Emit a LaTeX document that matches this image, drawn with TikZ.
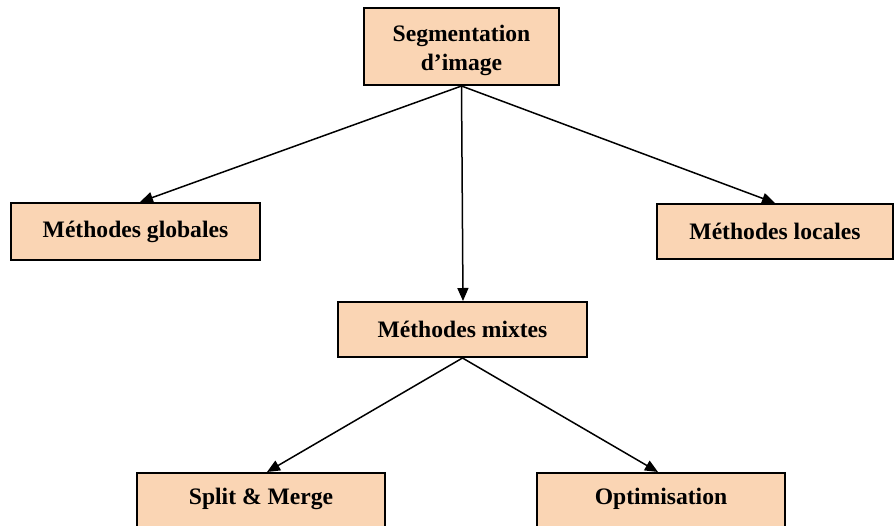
\documentclass[tikz,border=0pt]{standalone}
\usepackage{fontspec}
\setmainfont{Liberation Serif}
\usetikzlibrary{arrows.meta}
\definecolor{peach}{RGB}{250,213,180}
\tikzset{
  box/.style={draw=black, line width=2pt, fill=peach, inner sep=0pt, align=center,
    font=\bfseries\fontsize{23.6}{31}\selectfont},
  link/.style={draw=black, line width=1.5pt, -{Triangle[length=13pt,width=11pt]}}
}
\begin{document}
\begin{tikzpicture}[x=1pt,y=-1pt]
\useasboundingbox (0,0) rectangle (895,526);
\clip (0,0) rectangle (895,526);
\fill[white] (0,0) rectangle (895,526);
\node[box, minimum width=195pt, minimum height=77pt] (seg) at (461.5,46.5) {\raisebox{5pt}[0pt][0pt]{\begin{tabular}[t]{@{}c@{}}Segmentation\\[-2pt]d’image\end{tabular}}};
\node[box, minimum width=249pt, minimum height=57pt] (glob) at (135.5,231.5) {Méthodes globales};
\node[box, minimum width=236pt, minimum height=55pt] (loc) at (775,231.5) {Méthodes locales};
\node[box, minimum width=249pt, minimum height=55pt] (mix) at (462.5,329.5) {Méthodes mixtes};
\node[box, minimum width=248pt, minimum height=62pt] (split) at (261,504) {\raisebox{-1pt}[0pt][0pt]{Split \& Merge}};
\node[box, minimum width=248pt, minimum height=62pt] (opt) at (661,504) {\raisebox{-1pt}[0pt][0pt]{Optimisation}};
\draw[link] (seg.south) -- ([xshift=4.5pt]glob.north);
\draw[link] (seg.south) -- ([xshift=0.5pt]mix.north);
\draw[link] (seg.south) -- (loc.north);
\draw[link] (mix.south) -- ([xshift=6pt]split.north);
\draw[link] (mix.south) -- ([xshift=-3pt]opt.north);
\end{tikzpicture}
\end{document}
